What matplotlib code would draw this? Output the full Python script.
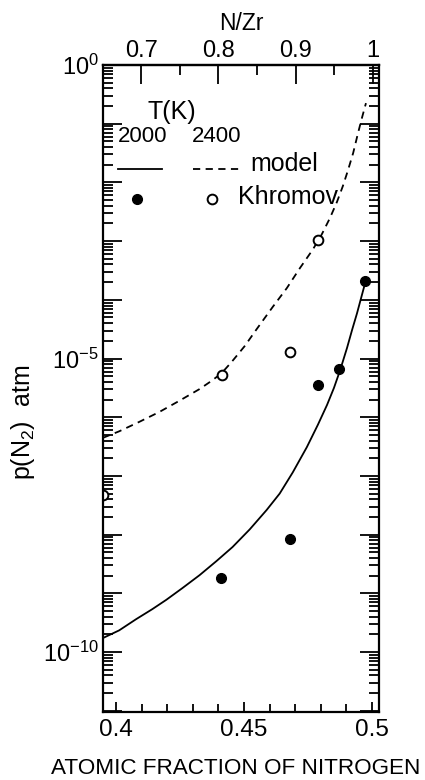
import numpy as np
import matplotlib
matplotlib.use("Agg")
import matplotlib.pyplot as plt
from matplotlib.ticker import LogLocator, NullFormatter, FixedLocator, FuncFormatter

plt.rcParams['font.family'] = ['Liberation Sans', 'DejaVu Sans']
plt.rcParams['mathtext.fontset'] = 'custom'
plt.rcParams['mathtext.rm'] = 'Liberation Sans'
plt.rcParams['mathtext.it'] = 'Liberation Sans:italic'
plt.rcParams['mathtext.default'] = 'regular'

# model curves (atomic fraction N, log10 p(N2))
x_model_2000 = [0.3949, 0.4012, 0.4078, 0.4141, 0.4196, 0.4259, 0.4326, 0.4392,
                0.4455, 0.4522, 0.4588, 0.4639, 0.4690, 0.4745, 0.4788, 0.4824,
                0.4851, 0.4875, 0.4902, 0.4922, 0.4941, 0.4957, 0.4973]
logp_model_2000 = [-9.76, -9.63, -9.44, -9.27, -9.11, -8.91, -8.69, -8.45,
                   -8.21, -7.91, -7.58, -7.30, -6.94, -6.51, -6.13, -5.79,
                   -5.50, -5.20, -4.82, -4.51, -4.23, -3.97, -3.71]

x_model_2400 = [0.3949, 0.4012, 0.4090, 0.4169, 0.4247, 0.4326, 0.4373, 0.4412,
                0.4451, 0.4502, 0.4549, 0.4612, 0.4667, 0.4718, 0.4769, 0.4804,
                0.4835, 0.4863, 0.4886, 0.4906, 0.4926, 0.4945, 0.4961, 0.4976]
logp_model_2400 = [-6.35, -6.24, -6.08, -5.91, -5.72, -5.52, -5.38, -5.25,
                   -5.06, -4.79, -4.50, -4.12, -3.80, -3.46, -3.14, -2.88,
                   -2.61, -2.33, -2.06, -1.79, -1.50, -1.16, -0.89, -0.65]

# Khromov data
x_khr_2000 = [0.4411, 0.4678, 0.4790, 0.4869, 0.4973]
logp_khr_2000 = [-8.74, -8.08, -5.45, -5.17, -3.68]

x_khr_2400 = [0.3950, 0.4413, 0.4678, 0.4790]
logp_khr_2400 = [-7.33, -5.28, -4.89, -2.98]

bottom_ticks = [0.4, 0.45, 0.5]
bottom_labels = ['0.4', '0.45', '0.5']
top_ticks = [0.7, 0.8, 0.9, 1.0]
top_labels = ['0.7', '0.8', '0.9', '1']


def nzr_to_x(v):
    return 0.4098 + (np.asarray(v) - 0.7) * 0.30196


def x_to_nzr(x):
    return 0.7 + (np.asarray(x) - 0.4098) / 0.30196


def decade_label(v, pos):
    k = int(round(np.log10(v)))
    return '$10^{%d}$' % k if k % 5 == 0 else ''


fig = plt.figure(figsize=(4.25, 7.8), dpi=100)
ax = fig.add_axes([0.2424, 0.0872, 0.6494, 0.8295])

ax.plot(x_model_2000, 10.0 ** np.array(logp_model_2000), '-', color='black', lw=1.3)
ax.plot(x_model_2400, 10.0 ** np.array(logp_model_2400), color='black', lw=1.3,
        dashes=(4, 3))
ax.plot(x_khr_2000, 10.0 ** np.array(logp_khr_2000), 'o', color='black', ms=7)
ax.plot(x_khr_2400, 10.0 ** np.array(logp_khr_2400), 'o', mfc='white', mec='black',
        mew=1.4, ms=7)

ax.set_yscale('log')
ax.set_xlim(0.3949, 0.5027)
ax.set_ylim(10 ** -11.02, 1.0)

ax.set_xticks(bottom_ticks)
ax.set_xticklabels(bottom_labels)
ax.xaxis.set_minor_locator(FixedLocator(np.arange(0.40, 0.501, 0.01)))
ax.yaxis.set_major_locator(FixedLocator([10.0 ** k for k in range(-11, 1)]))
ax.yaxis.set_major_formatter(FuncFormatter(decade_label))
ax.yaxis.set_minor_locator(LogLocator(base=10, subs=np.arange(2, 10), numticks=30))
ax.yaxis.set_minor_formatter(NullFormatter())

ax.tick_params(axis='both', which='both', direction='in', width=1.3,
               top=False, right=True)
ax.tick_params(axis='y', which='major', length=14, pad=3, labelsize=17)
ax.tick_params(axis='y', which='minor', length=7)
ax.tick_params(axis='x', which='major', length=7, pad=5, labelsize=17.5)
ax.tick_params(axis='x', which='minor', length=6)
for s in ax.spines.values():
    s.set_linewidth(1.6)

top = ax.secondary_xaxis('top', functions=(x_to_nzr, nzr_to_x))
top.set_xticks(top_ticks)
top.set_xticklabels(top_labels)
top.xaxis.set_minor_locator(FixedLocator([0.75, 0.85, 0.95]))
top.tick_params(which='both', direction='in', width=1.3, labelsize=17, pad=2)
top.tick_params(which='major', length=14)
top.tick_params(which='minor', length=7)
top.spines['top'].set_linewidth(1.6)
top.set_xlabel('N/Zr', fontsize=16.5, labelpad=7)

fig.text(0.555, 0.015, 'ATOMIC FRACTION OF NITROGEN', fontsize=16.2,
         ha='center', va='center')
fig.text(0.054, 0.458, 'p(N$_2$)  atm', fontsize=18, rotation=90,
         ha='center', va='center')

# legend
tr = ax.transAxes
ax.text(0.25, 0.927, 'T(K)', transform=tr, fontsize=18, ha='center', va='center')
ax.text(0.143, 0.889, '2000', transform=tr, fontsize=16, ha='center', va='center')
ax.text(0.410, 0.889, '2400', transform=tr, fontsize=16, ha='center', va='center')
ax.plot([0.054, 0.214], [0.839, 0.839], '-', color='black', lw=1.3, transform=tr)
ax.plot([0.326, 0.496], [0.839, 0.839], color='black', lw=1.3, dashes=(4, 3),
        transform=tr)
ax.text(0.533, 0.847, 'model', transform=tr, fontsize=18, ha='left', va='center')
ax.plot([0.123], [0.793], 'o', color='black', ms=7, transform=tr)
ax.plot([0.395], [0.793], 'o', mfc='white', mec='black', mew=1.4, ms=7, transform=tr)
ax.text(0.489, 0.796, 'Khromov', transform=tr, fontsize=18, ha='left', va='center')

fig.savefig('out.png', dpi=100)
